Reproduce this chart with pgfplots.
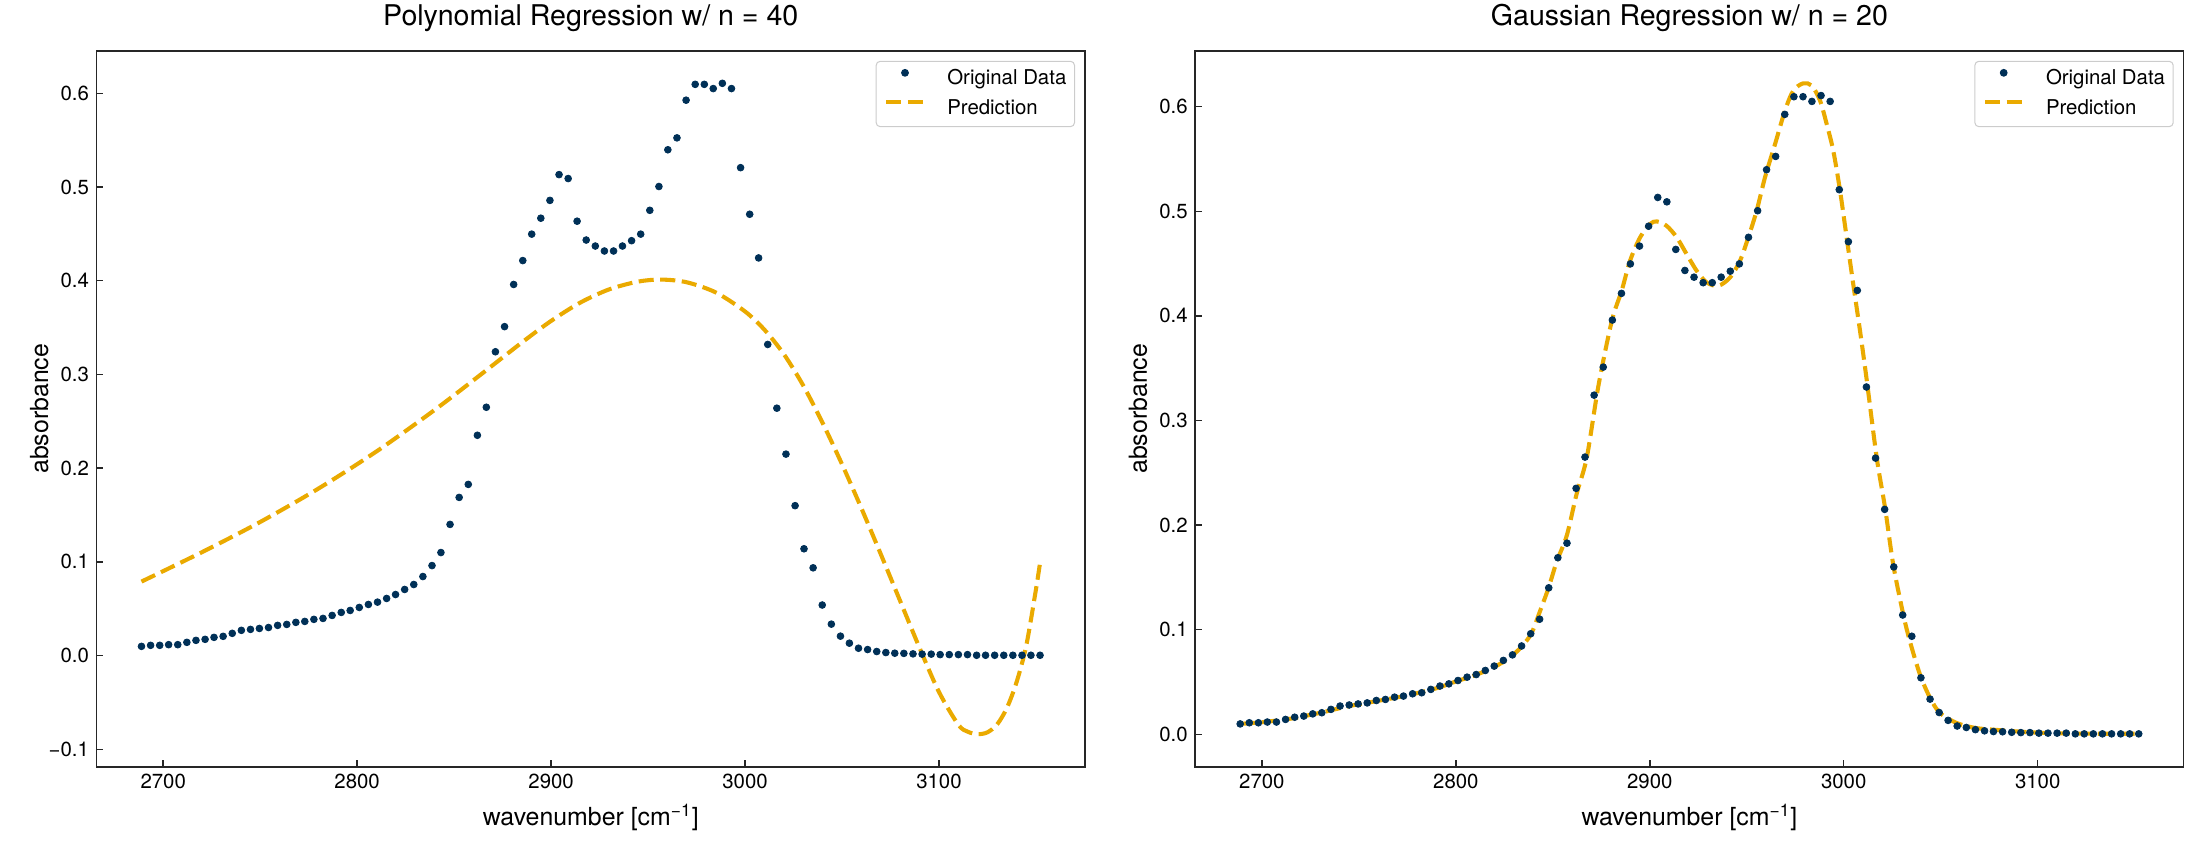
\documentclass[border=0pt]{standalone}
\usepackage{fontspec}
\setmainfont{TeX Gyre Heros}
\usepackage{pgfplots}
\usepackage{pgfplotstable}
\pgfplotsset{compat=1.18}
\definecolor{navy}{HTML}{003057}
\definecolor{gold}{HTML}{EAAA00}

\pgfplotstableread{
w a
2688.8 0.0099
2693.5 0.0110
2698.2 0.0110
2702.8 0.0117
2707.5 0.0117
2712.2 0.0142
2716.9 0.0163
2721.6 0.0174
2726.2 0.0195
2730.9 0.0206
2735.6 0.0238
2740.3 0.0270
2745.0 0.0280
2749.6 0.0290
2754.3 0.0300
2759.0 0.0323
2763.7 0.0333
2768.4 0.0355
2773.0 0.0365
2777.7 0.0387
2782.4 0.0397
2787.1 0.0429
2791.8 0.0461
2796.4 0.0482
2801.1 0.0514
2805.8 0.0546
2810.5 0.0571
2815.2 0.0610
2819.8 0.0652
2824.5 0.0706
2829.2 0.0759
2833.9 0.0844
2838.6 0.0961
2843.2 0.1100
2847.9 0.1400
2852.6 0.1688
2857.3 0.1827
2862.0 0.2351
2866.6 0.2650
2871.3 0.3242
2876.0 0.3510
2880.7 0.3960
2885.4 0.4215
2890.0 0.4497
2894.7 0.4667
2899.4 0.4857
2904.1 0.5132
2908.8 0.5090
2913.4 0.4635
2918.1 0.4434
2922.8 0.4370
2927.5 0.4317
2932.2 0.4317
2936.8 0.4370
2941.5 0.4427
2946.2 0.4497
2950.9 0.4751
2955.6 0.5005
2960.2 0.5397
2964.9 0.5524
2969.6 0.5926
2974.3 0.6095
2979.0 0.6095
2983.6 0.6050
2988.3 0.6106
2993.0 0.6050
2997.7 0.5206
3002.4 0.4709
3007.0 0.4243
3011.7 0.3320
3016.4 0.2640
3021.1 0.2150
3025.8 0.1600
3030.4 0.1140
3035.1 0.0937
3039.8 0.0540
3044.5 0.0336
3049.2 0.0208
3053.8 0.0133
3058.5 0.0079
3063.2 0.0065
3067.9 0.0044
3072.6 0.0033
3077.2 0.0026
3081.9 0.0024
3086.6 0.0019
3091.3 0.0016
3096.0 0.0016
3100.6 0.0011
3105.3 0.0011
3110.0 0.0011
3114.7 0.0011
3119.4 0.0004
3124.0 0.0004
3128.7 0.0004
3133.4 0.0004
3138.1 0.0004
3142.8 0.0004
3147.4 0.0004
3152.1 0.0004
}\datatable

\pgfplotstableread{
w p
2688.8 0.0790
2720.0 0.1104
2750.0 0.1426
2780.0 0.1782
2810.0 0.2179
2840.0 0.2622
2865.0 0.3019
2885.0 0.3342
2900.0 0.3571
2915.0 0.3766
2930.0 0.3908
2945.0 0.3991
2957.0 0.4012
2970.0 0.3983
2985.0 0.3874
3000.0 0.3672
3010.0 0.3477
3020.0 0.3217
3030.0 0.2882
3040.0 0.2482
3050.0 0.2042
3060.0 0.1572
3070.0 0.1082
3080.0 0.0582
3090.0 0.0082
3100.0 -0.0388
3110.0 -0.0738
3115.0 -0.0813
3120.0 -0.0838
3125.0 -0.0818
3130.0 -0.0733
3135.0 -0.0558
3140.0 -0.0283
3145.0 0.0107
3150.0 0.0707
3152.1 0.0990
}\polytable

\pgfplotstableread{
w p
2688.8 0.0100
2700.0 0.0115
2715.0 0.0150
2730.0 0.0205
2745.0 0.0270
2760.0 0.0320
2775.0 0.0372
2790.0 0.0440
2800.0 0.0505
2810.0 0.0565
2820.0 0.0645
2828.0 0.0735
2834.0 0.0840
2839.0 0.0965
2843.4 0.1177
2847.8 0.1400
2852.0 0.1650
2857.2 0.1900
2862.3 0.2300
2867.5 0.2644
2873.5 0.3330
2880.4 0.3950
2885.5 0.4240
2889.8 0.4526
2895.0 0.4750
2900.1 0.4877
2903.6 0.4903
2908.7 0.4860
2913.9 0.4750
2919.0 0.4590
2924.2 0.4430
2929.3 0.4320
2935.3 0.4287
2941.4 0.4367
2946.5 0.4526
2950.8 0.4750
2955.1 0.5005
2959.4 0.5324
2964.6 0.5643
2969.7 0.5962
2974.0 0.6153
2979.1 0.6223
2983.5 0.6201
2987.8 0.6057
2991.2 0.5834
2994.6 0.5579
2998.1 0.5196
3001.5 0.4750
3004.9 0.4303
3008.4 0.3856
3011.8 0.3394
3017.0 0.2644
3021.3 0.2166
3025.5 0.1624
3030.7 0.1145
3034.1 0.0890
3039.3 0.0571
3044.5 0.0348
3049.6 0.0204
3058.2 0.0108
3068.0 0.0060
3080.0 0.0040
3095.0 0.0020
3110.0 0.0010
3130.0 0.0005
3152.1 0.0005
}\gausstable

\pgfplotsset{
  myaxis/.style={
    scale only axis, width=484.6pt, height=351pt,
    axis line style={black!85, line width=0.7pt},
    tick align=inside, xtick pos=bottom, ytick pos=left,
    major tick length=3.4pt,
    every tick/.style={black!85, line width=0.7pt},
    xmin=2665.6, xmax=3175.3,
    xtick={2700,2800,2900,3000,3100},
    xticklabels={2700,2800,2900,3000,3100},
    tick label style={font=\fontsize{10}{12}\selectfont, inner sep=0pt},
    xticklabel style={anchor=base, yshift=-10.6pt},
    yticklabel style={anchor=east, xshift=-3.5pt},
    xlabel={wavenumber [cm\textsuperscript{−1}]},
    ylabel={absorbance},
    label style={font=\fontsize{12.2}{14}\selectfont},
    xlabel style={at={(axis description cs:0.5,-0.0814)}, anchor=base},
    ylabel style={at={(axis description cs:-0.0488,0.5)}, anchor=base},
    title style={at={(axis description cs:0.5,1)}, anchor=base, yshift=6.5pt, font=\fontsize{14}{16}\selectfont},
    legend cell align=left,
    legend style={at={(axis description cs:1,1)}, anchor=north east, xshift=-4.9pt, yshift=-4.9pt,
      draw=black!20, line width=0.5pt, rounded corners=2pt, fill=white,
      inner xsep=4pt, inner ysep=4pt, column sep=10.6pt, row sep=5pt,
      font=\fontsize{10}{12}\selectfont,
      nodes={inner sep=0pt, text height=7.3pt, text depth=2.1pt}},
  },
  datastyle/.style={only marks, mark=*, mark size=1.65pt, color=navy,
    legend image code/.code={\draw[mark repeat=2,mark phase=2,##1] plot coordinates {(0pt,3.3pt) (9.15pt,3.3pt) (18.3pt,3.3pt)};}},
  predstyle/.style={no marks, color=gold, line width=2pt, dash pattern=on 7.4pt off 3.2pt, smooth,
    legend image code/.code={\draw[##1] (0pt,3.3pt) -- (18.3pt,3.3pt);}},
}

\begin{document}
\begin{tikzpicture}
\useasboundingbox (0,0) rectangle (1078pt,416.2pt);
\begin{axis}[myaxis,
  at={(47.3pt,40.3pt)}, anchor=south west,
  title={Polynomial Regression w/ n = 40},
  ymin=-0.1186, ymax=0.6453,
  ytick={-0.1,0,0.1,0.2,0.3,0.4,0.5,0.6},
  yticklabels={−0.1,0.0,0.1,0.2,0.3,0.4,0.5,0.6},
]
\addplot[datastyle] table[x=w,y=a] {\datatable};
\addlegendentry{Original Data}
\addplot[predstyle] table[x=w,y=p] {\polytable};
\addlegendentry{Prediction}
\end{axis}
\begin{axis}[myaxis,
  at={(585.9pt,40.3pt)}, anchor=south west,
  title={Gaussian Regression w/ n = 20},
  ymin=-0.0311, ymax=0.6534,
  ytick={0,0.1,0.2,0.3,0.4,0.5,0.6},
  yticklabels={0.0,0.1,0.2,0.3,0.4,0.5,0.6},
]
\addplot[datastyle] table[x=w,y=a] {\datatable};
\addlegendentry{Original Data}
\addplot[predstyle] table[x=w,y=p] {\gausstable};
\addlegendentry{Prediction}
\end{axis}
\end{tikzpicture}
\end{document}
